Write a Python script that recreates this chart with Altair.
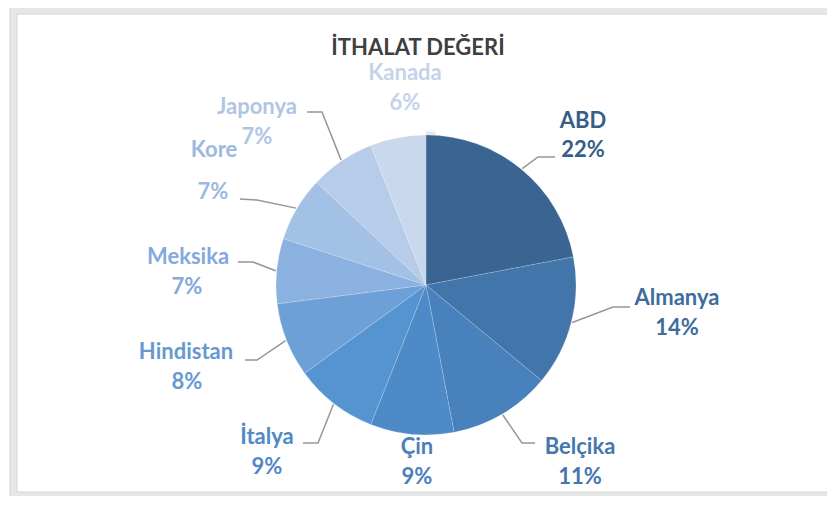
import math
import altair as alt
import pandas as pd

# ---------------- data ----------------
categories = ["ABD", "Almanya", "Belçika", "Çin", "İtalya",
              "Hindistan", "Meksika", "Kore", "Japonya", "Kanada"]
shares = [22, 14, 11, 9, 9, 8, 7, 7, 7, 6]
chart_title = "İTHALAT DEĞERİ"

# ---------------- styles ----------------
slice_colors = ["#3a6492", "#4276aa", "#4881bc", "#4d8ac7", "#5594d0",
                "#6ca0d7", "#8ab1df", "#a3c0e5", "#b7cce9", "#cad8ee"]
text_colors = ["#385d88", "#3f6c9e", "#4577ae", "#4a80bc", "#5089c7",
               "#6699d1", "#84a9da", "#9db9e0", "#b0c5e4", "#c4d3ea"]
line_color = "#969696"
FONT = "Lato"

# ---------------- layout (page pixels) ----------------
W, H = 819, 488            # chart size; page has 8px margin
CX, CY, R = 426, 285, 150  # pie centre and radius
TITLE_POS = (418, 48)
name_pos = [(583, 121), (677, 298), (580, 447), (417, 447), (267, 437),
            (186, 352), (188, 257), (214, 150), (257, 107), (405, 73)]
pct_pos = [(583, 150), (677, 328), (580, 477), (417, 477), (267, 467),
           (187, 382), (187, 287), (213, 192), (257, 137), (405, 103)]
# leader line: elbow and end point (None = no leader line)
leaders = [((538, 157), (555, 157)), ((613, 307), (630, 307)),
           ((522, 443), (535, 443)), None, ((318, 443), (303, 443)),
           ((257, 360), (245, 360)), ((253, 262), (238, 262)),
           ((257, 200), (240, 199)), ((322, 112), (307, 112)), None]
frames = [  # x, x2, y, y2, fill, stroke
    (10, 836, 4, 502, "#e6e6e6", "#d2d2d2"),
    (17, 829, 14, 492, "#ffffff", "#d6d6d6"),
]
halo = [(R + 5, 0.18), (R + 3, 0.3)]  # soft shadow rings (radius, opacity)

# ---------------- tables ----------------
total = sum(shares)
slices = pd.DataFrame({"cat": categories, "share": shares,
                       "idx": list(range(len(categories))),
                       "cx": [CX] * len(categories), "cy": [CY] * len(categories)})

labels = pd.DataFrame({
    "cat": categories * 2,
    "text": categories + [f"{v}%" for v in shares],
    "x": [p[0] for p in name_pos] + [p[0] for p in pct_pos],
    "y": [p[1] for p in name_pos] + [p[1] for p in pct_pos],
    "tcolor": text_colors * 2,
})

rows = []
cum = 0
for i, (c, v) in enumerate(zip(categories, shares)):
    mid = (cum + v / 2) / total * 2 * math.pi
    cum += v
    if leaders[i] is None:
        continue
    sx = CX + (R + 1) * math.sin(mid)
    sy = CY - (R + 1) * math.cos(mid)
    (ex, ey), (tx, ty) = leaders[i]
    rows += [{"cat": c, "pt": 0, "x": sx, "y": sy},
             {"cat": c, "pt": 1, "x": ex, "y": ey},
             {"cat": c, "pt": 2, "x": tx, "y": ty}]
lines = pd.DataFrame(rows)

frame_df = pd.DataFrame(frames, columns=["x", "x2", "y", "y2", "fill", "stroke"])
frame_df["k"] = range(len(frame_df))
title_df = pd.DataFrame({"t": [chart_title], "x": [TITLE_POS[0]], "y": [TITLE_POS[1]]})
halo_df = pd.DataFrame({"r": [h[0] for h in halo], "op": [h[1] for h in halo],
                        "cx": [CX] * len(halo), "cy": [CY] * len(halo),
                        "v": [1] * len(halo)})

xs = alt.Scale(domain=[8, 8 + W])
ys = alt.Scale(domain=[8, 8 + H], reverse=True)
X = lambda f: alt.X(f, scale=xs, axis=None)
Y = lambda f: alt.Y(f, scale=ys, axis=None)

frame = alt.Chart(frame_df).mark_rect(strokeWidth=1).encode(
    x=X("x:Q"), x2="x2:Q", y=Y("y:Q"), y2="y2:Q",
    fill=alt.Fill("fill:N", scale=None),
    stroke=alt.Stroke("stroke:N", scale=None),
    order="k:Q",
)

shadow_layers = [
    alt.Chart(halo_df.iloc[[i]]).mark_arc(
        outerRadius=r, color="#c8c8c8", opacity=op
    ).encode(theta=alt.Theta("v:Q"), x=X("cx:Q"), y=Y("cy:Q"))
    for i, (r, op) in enumerate(halo)
]

pie = alt.Chart(slices).mark_arc(
    outerRadius=R, stroke="white", strokeWidth=0.5, strokeOpacity=0.35
).encode(
    theta=alt.Theta("share:Q", stack=True),
    color=alt.Color("cat:N", scale=alt.Scale(domain=categories, range=slice_colors),
                    legend=None),
    order=alt.Order("idx:Q"),
    x=X("cx:Q"),
    y=Y("cy:Q"),
)

leader = alt.Chart(lines).mark_line(color=line_color, strokeWidth=1.5).encode(
    x=X("x:Q"), y=Y("y:Q"), detail="cat:N", order="pt:Q",
)

text = alt.Chart(labels).mark_text(
    font=FONT, fontSize=22, fontWeight="bold", align="center", baseline="middle"
).encode(
    x=X("x:Q"), y=Y("y:Q"), text="text:N",
    color=alt.Color("tcolor:N", scale=None),
)

title = alt.Chart(title_df).mark_text(
    font=FONT, fontSize=22, fontWeight="bold", color="#404040",
    align="center", baseline="middle"
).encode(x=X("x:Q"), y=Y("y:Q"), text="t:N")

chart = alt.layer(frame, *shadow_layers, pie, leader, text, title).properties(
    width=W, height=H, padding=0, autosize=alt.AutoSizeParams(type="none"),
    background="white",
).configure_view(stroke=None)

chart.save("out.html", embed_options={"renderer": "svg", "actions": False})
